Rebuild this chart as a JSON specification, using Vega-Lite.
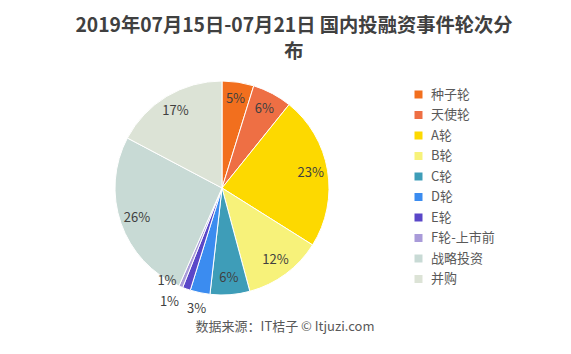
{
  "$schema": "https://vega.github.io/schema/vega-lite/v6.json",
  "width": 444,
  "height": 244,
  "autosize": {"type": "none"},
  "padding": {"left": 0, "top": 66, "right": 127, "bottom": 44},
  "background": "white",
  "config": {"view": {"stroke": null}},
  "title": {
    "text": ["2019年07月15日-07月21日 国内投融资事件轮次分", "布"],
    "font": "Noto Sans CJK SC",
    "fontSize": 19.3,
    "fontWeight": "bold",
    "color": "#404040",
    "lineHeight": 26,
    "anchor": "middle",
    "dx": 72,
    "offset": -3
  },
  "data": {
    "values": [
      {"round": "种子轮", "share": 0.048, "idx": 1},
      {"round": "天使轮", "share": 0.060, "idx": 2},
      {"round": "A轮", "share": 0.232, "idx": 3},
      {"round": "B轮", "share": 0.119, "idx": 4},
      {"round": "C轮", "share": 0.060, "idx": 5},
      {"round": "D轮", "share": 0.030, "idx": 6},
      {"round": "E轮", "share": 0.012, "idx": 7},
      {"round": "F轮-上市前", "share": 0.006, "idx": 8},
      {"round": "战略投资", "share": 0.262, "idx": 9},
      {"round": "并购", "share": 0.173, "idx": 10}
    ]
  },
  "layer": [
    {
      "mark": {"type": "arc", "outerRadius": 107, "stroke": "white", "strokeWidth": 1},
      "encoding": {
        "theta": {"field": "share", "type": "quantitative", "stack": true},
        "order": {"field": "idx", "type": "quantitative"},
        "color": {
          "field": "round",
          "type": "nominal",
          "scale": {
            "domain": ["种子轮", "天使轮", "A轮", "B轮", "C轮", "D轮", "E轮", "F轮-上市前", "战略投资", "并购"],
            "range": ["#F26F1E", "#EE6F44", "#FDD900", "#F7F27A", "#3E9DB8", "#3B8CF0", "#5A47C8", "#A99BD9", "#C8DAD5", "#DCE3D6"]
          },
          "legend": {
            "orient": "none",
            "legendX": 412,
            "legendY": 22,
            "title": null,
            "symbolType": "square",
            "symbolSize": 64,
            "symbolStrokeWidth": 0,
            "labelFontSize": 13,
            "labelFont": "Noto Sans CJK SC",
            "labelColor": "#595959",
            "labelOffset": 6,
            "rowPadding": 6.5
          }
        }
      }
    },
    {
      "mark": {"type": "text", "radius": 90, "font": "Noto Sans CJK SC", "fontSize": 13, "color": "#404040"},
      "encoding": {
        "theta": {"field": "share", "type": "quantitative", "stack": true},
        "order": {"field": "idx", "type": "quantitative"},
        "text": {"condition": {"test": "datum.share >= 0.04", "field": "share", "type": "quantitative", "format": ".0%"}, "value": ""}
      }
    },
    {
      "mark": {"type": "text", "radius": 124, "dx": 0, "font": "Noto Sans CJK SC", "fontSize": 13, "color": "#404040"},
      "encoding": {
        "theta": {"field": "share", "type": "quantitative", "stack": true},
        "order": {"field": "idx", "type": "quantitative"},
        "text": {"condition": {"test": "datum.share >= 0.02 && datum.share < 0.04", "field": "share", "type": "quantitative", "format": ".0%"}, "value": ""}
      }
    },
    {
      "mark": {"type": "text", "radius": 122, "dx": -12, "dy": -1, "font": "Noto Sans CJK SC", "fontSize": 13, "color": "#404040"},
      "encoding": {
        "theta": {"field": "share", "type": "quantitative", "stack": true},
        "order": {"field": "idx", "type": "quantitative"},
        "text": {"condition": {"test": "datum.share >= 0.01 && datum.share < 0.02", "field": "share", "type": "quantitative", "format": ".0%"}, "value": ""}
      }
    },
    {
      "mark": {"type": "text", "radius": 104, "dx": -15, "dy": -3, "font": "Noto Sans CJK SC", "fontSize": 13, "color": "#404040"},
      "encoding": {
        "theta": {"field": "share", "type": "quantitative", "stack": true},
        "order": {"field": "idx", "type": "quantitative"},
        "text": {"condition": {"test": "datum.share < 0.01", "field": "share", "type": "quantitative", "format": ".0%"}, "value": ""}
      }
    },
    {
      "data": {"values": [{"note": "数据来源：IT桔子 © Itjuzi.com"}]},
      "mark": {"type": "text", "x": 285, "y": 261, "font": "Noto Sans CJK SC", "fontSize": 13, "color": "#595959"},
      "encoding": {"text": {"field": "note", "type": "nominal"}}
    }
  ]
}
